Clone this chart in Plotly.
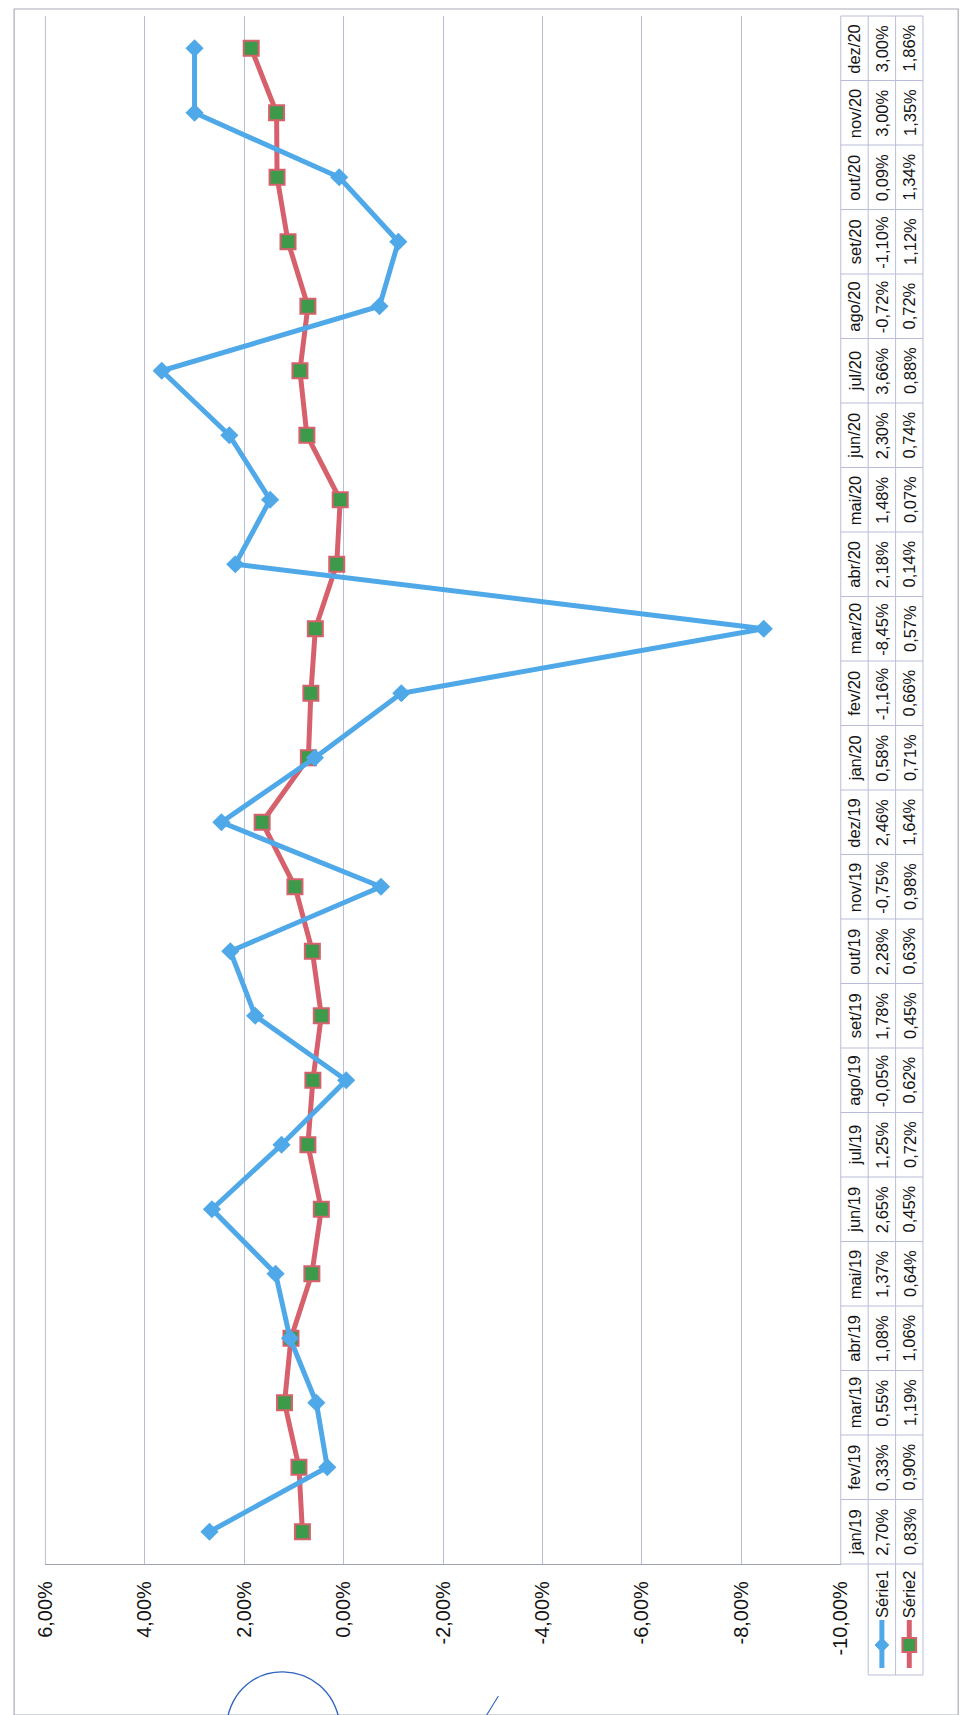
import plotly.graph_objects as go

categories = ['jan/19', 'fev/19', 'mar/19', 'abr/19', 'mai/19', 'jun/19', 'jul/19', 'ago/19',
              'set/19', 'out/19', 'nov/19', 'dez/19', 'jan/20', 'fev/20', 'mar/20', 'abr/20',
              'mai/20', 'jun/20', 'jul/20', 'ago/20', 'set/20', 'out/20', 'nov/20', 'dez/20']
serie1 = [2.70, 0.33, 0.55, 1.08, 1.37, 2.65, 1.25, -0.05, 1.78, 2.28, -0.75, 2.46,
          0.58, -1.16, -8.45, 2.18, 1.48, 2.30, 3.66, -0.72, -1.10, 0.09, 3.00, 3.00]
serie2 = [0.83, 0.90, 1.19, 1.06, 0.64, 0.45, 0.72, 0.62, 0.45, 0.63, 0.98, 1.64,
          0.71, 0.66, 0.57, 0.14, 0.07, 0.74, 0.88, 0.72, 1.12, 1.34, 1.35, 1.86]
series_names = ['Série1', 'Série2']
value_ticks = [6, 4, 2, 0, -2, -4, -6, -8, -10]

W, H = 969, 1715
BLUE = '#4FA8E8'
RED = '#D6616C'
GREEN = '#3C9A4A'
GRID = '#B9BDD9'
FONT = 'Liberation Sans'
TXT = '#141414'


def px(x):
    return x / W


def py(y):
    return 1 - y / H


def pct(v):
    return f"{v:.2f}%".replace('.', ',')


PLOT_L, PLOT_R = 27, 840
PLOT_T, PLOT_B = 8, 1556

fig = go.Figure()
fig.add_trace(go.Scatter(
    x=serie2, y=categories, mode='lines+markers', name=series_names[1],
    line=dict(color=RED, width=5),
    marker=dict(symbol='square', size=15, color=GREEN, line=dict(color=RED, width=2)),
))
fig.add_trace(go.Scatter(
    x=serie1, y=categories, mode='lines+markers', name=series_names[0],
    line=dict(color=BLUE, width=5),
    marker=dict(symbol='diamond', size=14, color=BLUE),
))

shapes = []
annotations = []

# left plot edge gridline (6,00%)
shapes.append(dict(type='line', xref='paper', yref='paper', x0=px(PLOT_L), x1=px(PLOT_L),
                   y0=py(PLOT_T), y1=py(PLOT_B), line=dict(color=GRID, width=1)))

# table geometry (pixels)
COL = [PLOT_R, 868, 896, 924]
band = (PLOT_B - PLOT_T) / len(categories)
for x in COL:
    shapes.append(dict(type='line', xref='paper', yref='paper', x0=px(x), x1=px(x),
                       y0=py(PLOT_T), y1=py(PLOT_B), line=dict(color=GRID, width=1)))
for i in range(len(categories) + 1):
    yy = PLOT_T + i * band
    shapes.append(dict(type='line', xref='paper', yref='paper', x0=px(COL[0]), x1=px(COL[3]),
                       y0=py(yy), y1=py(yy), line=dict(color=GRID, width=1)))
LEG_B = 1667
for x in COL[1:]:
    shapes.append(dict(type='line', xref='paper', yref='paper', x0=px(x), x1=px(x),
                       y0=py(PLOT_B), y1=py(LEG_B), line=dict(color=GRID, width=1)))
shapes.append(dict(type='line', xref='paper', yref='paper', x0=px(COL[1]), x1=px(COL[3]),
                   y0=py(LEG_B), y1=py(LEG_B), line=dict(color=GRID, width=1)))

# table texts
for i, c in enumerate(categories):
    for txt, xc in ((c, (COL[0] + COL[1]) / 2), (pct(serie1[i]), (COL[1] + COL[2]) / 2),
                    (pct(serie2[i]), (COL[2] + COL[3]) / 2)):
        annotations.append(dict(text=txt, x=px(xc), y=c, xref='paper', yref='y',
                                textangle=-90, showarrow=False,
                                font=dict(family=FONT, size=16.5, color=TXT),
                                xanchor='center', yanchor='middle'))

# legend keys
for k, (name, color) in enumerate(zip(series_names, [BLUE, RED])):
    xc = (COL[1 + k] + COL[2 + k]) / 2
    annotations.append(dict(text=name, x=px(xc), y=py(1586), xref='paper', yref='paper',
                            textangle=-90, showarrow=False,
                            font=dict(family=FONT, size=16.5, color=TXT),
                            xanchor='center', yanchor='middle'))
    shapes.append(dict(type='line', xref='paper', yref='paper', x0=px(xc), x1=px(xc),
                       y0=py(1612), y1=py(1660), line=dict(color=color, width=5)))
    if k == 0:
        d = 7
        path = (f"M {px(xc)} {py(1637 - d)} L {px(xc + d)} {py(1637)} "
                f"L {px(xc)} {py(1637 + d)} L {px(xc - d)} {py(1637)} Z")
        shapes.append(dict(type='path', xref='paper', yref='paper', path=path,
                           fillcolor=BLUE, line=dict(color=BLUE, width=1)))
    else:
        s = 7
        shapes.append(dict(type='rect', xref='paper', yref='paper',
                           x0=px(xc - s), x1=px(xc + s), y0=py(1637 + s), y1=py(1637 - s),
                           fillcolor=GREEN, line=dict(color=RED, width=2)))

# outer chart border
shapes.append(dict(type='rect', xref='paper', yref='paper', x0=px(-5), x1=px(960),
                   y0=py(1707), y1=py(1), line=dict(color='#A9ABB8', width=1.2)))

# handwritten pen marks on the scan
path = (f"M {px(212)} {py(1716)} C {px(222)} {py(1645)}, {px(318)} {py(1648)}, "
        f"{px(328)} {py(1716)}")
shapes.append(dict(type='path', xref='paper', yref='paper', path=path,
                   line=dict(color='#2F63C0', width=1.4)))
shapes.append(dict(type='line', xref='paper', yref='paper', x0=px(490), y0=py(1688),
                   x1=px(473), y1=py(1715), line=dict(color='#2F63C0', width=1.1)))

fig.update_layout(
    width=W, height=H,
    margin=dict(l=0, r=0, t=0, b=0),
    paper_bgcolor='white', plot_bgcolor='white',
    showlegend=False,
    shapes=shapes, annotations=annotations,
    xaxis=dict(domain=[px(PLOT_L), px(PLOT_R)], range=[6, -10], autorange=False,
               tickvals=value_ticks, ticktext=[pct(v) for v in value_ticks],
               tickangle=-90, showgrid=True, gridcolor=GRID, gridwidth=1,
               zeroline=False, showline=True, linecolor='#9EA1B4', linewidth=1.2,
               ticks='', ticklabelstandoff=8, mirror=False,
               tickfont=dict(family=FONT, size=20, color=TXT)),
    yaxis=dict(domain=[py(PLOT_B), py(PLOT_T)], type='category',
               categoryorder='array', categoryarray=categories,
               range=[-0.5, len(categories) - 0.5], autorange=False,
               showticklabels=False, showgrid=False, zeroline=False, showline=False, ticks=''),
)

fig.write_html("out.html")
